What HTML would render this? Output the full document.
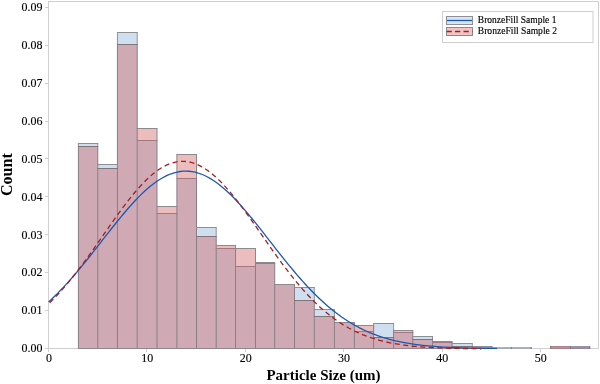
<!DOCTYPE html>
<html><head><meta charset="utf-8"><style>
html,body{margin:0;padding:0;background:#fff;width:600px;height:384px;overflow:hidden;font-family:"Liberation Serif",serif;}
svg{display:block;will-change:transform;}
</style></head><body>
<svg width="600" height="384" viewBox="0 0 600 384">
<rect x="0" y="0" width="600" height="384" fill="#fff"/>
<rect x="48.5" y="1.5" width="550" height="347" fill="none" stroke="#cfcfcf" stroke-width="1"/>
<g stroke="#cfcfcf" fill="none"><path d="M45 348.5H48.5"/><path d="M45 310.5H48.5"/><path d="M45 272.5H48.5"/><path d="M45 234.5H48.5"/><path d="M45 196.5H48.5"/><path d="M45 158.5H48.5"/><path d="M45 121.5H48.5"/><path d="M45 83.5H48.5"/><path d="M45 45.5H48.5"/><path d="M45 7.5H48.5"/><path d="M48.5 349V352"/><path d="M146.5 349V352"/><path d="M245.5 349V352"/><path d="M343.5 349V352"/><path d="M442.5 349V352"/><path d="M540.5 349V352"/></g>
<rect x="78.4" y="143.5" width="19.349999999999994" height="205.0" fill="#cfdff0"/><rect x="97.75" y="164.5" width="19.700000000000003" height="184.0" fill="#cfdff0"/><rect x="117.45" y="32.5" width="19.749999999999986" height="316.0" fill="#cfdff0"/><rect x="137.2" y="140.5" width="19.80000000000001" height="208.0" fill="#cfdff0"/><rect x="157.0" y="213.5" width="19.900000000000006" height="135.0" fill="#cfdff0"/><rect x="176.9" y="178.5" width="19.599999999999994" height="170.0" fill="#cfdff0"/><rect x="196.5" y="227.5" width="19.69999999999999" height="121.0" fill="#cfdff0"/><rect x="216.2" y="248.5" width="19.350000000000023" height="100.0" fill="#cfdff0"/><rect x="235.55" y="266.5" width="19.94999999999999" height="82.0" fill="#cfdff0"/><rect x="255.5" y="263.5" width="19.19999999999999" height="85.0" fill="#cfdff0"/><rect x="274.7" y="284.5" width="19.80000000000001" height="64.0" fill="#cfdff0"/><rect x="294.5" y="287.5" width="19.80000000000001" height="61.0" fill="#cfdff0"/><rect x="314.3" y="309.5" width="20.099999999999966" height="39.0" fill="#cfdff0"/><rect x="334.4" y="322.5" width="20.0" height="26.0" fill="#cfdff0"/><rect x="354.4" y="331.5" width="19.200000000000045" height="17.0" fill="#cfdff0"/><rect x="373.6" y="323.5" width="20.0" height="25.0" fill="#cfdff0"/><rect x="393.6" y="332.5" width="19.19999999999999" height="16.0" fill="#cfdff0"/><rect x="412.8" y="336.5" width="19.69999999999999" height="12.0" fill="#cfdff0"/><rect x="432.5" y="342.5" width="19.5" height="6.0" fill="#cfdff0"/><rect x="452.0" y="343.5" width="20.30000000000001" height="5.0" fill="#cfdff0"/><rect x="78.4" y="146.5" width="19.349999999999994" height="202.0" fill="rgba(206,94,94,0.41)"/><rect x="97.75" y="168.5" width="19.700000000000003" height="180.0" fill="rgba(206,94,94,0.41)"/><rect x="117.45" y="44.5" width="19.749999999999986" height="304.0" fill="rgba(206,94,94,0.41)"/><rect x="137.2" y="128.5" width="19.80000000000001" height="220.0" fill="rgba(206,94,94,0.41)"/><rect x="157.0" y="206.5" width="19.900000000000006" height="142.0" fill="rgba(206,94,94,0.41)"/><rect x="176.9" y="154.5" width="19.599999999999994" height="194.0" fill="rgba(206,94,94,0.41)"/><rect x="196.5" y="236.5" width="19.69999999999999" height="112.0" fill="rgba(206,94,94,0.41)"/><rect x="216.2" y="245.5" width="19.350000000000023" height="103.0" fill="rgba(206,94,94,0.41)"/><rect x="235.55" y="248.5" width="19.94999999999999" height="100.0" fill="rgba(206,94,94,0.41)"/><rect x="255.5" y="262.5" width="19.19999999999999" height="86.0" fill="rgba(206,94,94,0.41)"/><rect x="274.7" y="284.5" width="19.80000000000001" height="64.0" fill="rgba(206,94,94,0.41)"/><rect x="294.5" y="300.5" width="19.80000000000001" height="48.0" fill="rgba(206,94,94,0.41)"/><rect x="314.3" y="316.5" width="20.099999999999966" height="32.0" fill="rgba(206,94,94,0.41)"/><rect x="334.4" y="322.5" width="20.0" height="26.0" fill="rgba(206,94,94,0.41)"/><rect x="354.4" y="325.5" width="19.200000000000045" height="23.0" fill="rgba(206,94,94,0.41)"/><rect x="373.6" y="337.5" width="20.0" height="11.0" fill="rgba(206,94,94,0.41)"/><rect x="393.6" y="330.5" width="19.19999999999999" height="18.0" fill="rgba(206,94,94,0.41)"/><rect x="412.8" y="339.5" width="19.69999999999999" height="9.0" fill="rgba(206,94,94,0.41)"/><rect x="432.5" y="341.5" width="19.5" height="7.0" fill="rgba(206,94,94,0.41)"/><rect x="452.0" y="346.5" width="20.30000000000001" height="2.0" fill="rgba(206,94,94,0.41)"/><rect x="471.8" y="346" width="20.5" height="1" fill="#8e8e94"/><rect x="471.8" y="347" width="20.5" height="1" fill="#9a9aa0"/><rect x="471.8" y="348" width="20.5" height="1" fill="#8e8c92"/><rect x="491.3" y="347" width="20.399999999999977" height="1" fill="#a9b2c0"/><rect x="491.3" y="348" width="20.399999999999977" height="1" fill="#a4acb8"/><rect x="510.7" y="347" width="21.000000000000057" height="1" fill="#a9b2c0"/><rect x="510.7" y="348" width="21.000000000000057" height="1" fill="#a4acb8"/><rect x="550.1" y="346" width="20.850000000000023" height="1" fill="#ad8489"/><rect x="550.1" y="347" width="20.850000000000023" height="1" fill="#c98b92"/><rect x="550.1" y="348" width="20.850000000000023" height="1" fill="#a58289"/><rect x="569.95" y="346" width="20.25" height="1" fill="#929aa8"/><rect x="569.95" y="347" width="20.25" height="1" fill="#a48c95"/><rect x="569.95" y="348" width="20.25" height="1" fill="#9e858e"/>
<g fill="none" stroke-width="1"><path d="M78.4 146.5V348.5" stroke="#8a7d85"/><path d="M78.4 143.5V146.5" stroke="#8f9197"/><path d="M97.75 146.5V348.5" stroke="#8a7d85"/><path d="M97.75 143.5V146.5" stroke="#8f9197"/><path d="M117.45 44.5V348.5" stroke="#8a7d85"/><path d="M117.45 32.5V44.5" stroke="#8f9197"/><path d="M137.2 44.5V348.5" stroke="#8a7d85"/><path d="M137.2 32.5V44.5" stroke="#8f9197"/><path d="M157.0 140.5V348.5" stroke="#8a7d85"/><path d="M157.0 128.5V140.5" stroke="#928487"/><path d="M176.9 178.5V348.5" stroke="#8a7d85"/><path d="M176.9 154.5V178.5" stroke="#928487"/><path d="M196.5 178.5V348.5" stroke="#8a7d85"/><path d="M196.5 154.5V178.5" stroke="#928487"/><path d="M216.2 236.5V348.5" stroke="#8a7d85"/><path d="M216.2 227.5V236.5" stroke="#8f9197"/><path d="M235.55 248.5V348.5" stroke="#8a7d85"/><path d="M235.55 245.5V248.5" stroke="#928487"/><path d="M255.5 263.5V348.5" stroke="#8a7d85"/><path d="M255.5 248.5V263.5" stroke="#928487"/><path d="M274.7 263.5V348.5" stroke="#8a7d85"/><path d="M274.7 262.5V263.5" stroke="#928487"/><path d="M294.5 284.5V348.5" stroke="#8a7d85"/><path d="M314.3 300.5V348.5" stroke="#8a7d85"/><path d="M314.3 287.5V300.5" stroke="#8f9197"/><path d="M334.4 316.5V348.5" stroke="#8a7d85"/><path d="M334.4 309.5V316.5" stroke="#8f9197"/><path d="M354.4 322.5V348.5" stroke="#8a7d85"/><path d="M373.6 331.5V348.5" stroke="#8a7d85"/><path d="M373.6 323.5V331.5" stroke="#8f9197"/><path d="M373.6 325.5V331.5" stroke="#928487"/><path d="M393.6 332.5V348.5" stroke="#8a7d85"/><path d="M393.6 323.5V332.5" stroke="#8f9197"/><path d="M393.6 330.5V332.5" stroke="#928487"/><path d="M412.8 332.5V348.5" stroke="#8a7d85"/><path d="M412.8 330.5V332.5" stroke="#928487"/><path d="M432.5 339.5V348.5" stroke="#8a7d85"/><path d="M432.5 336.5V339.5" stroke="#8f9197"/><path d="M452.0 342.5V348.5" stroke="#8a7d85"/><path d="M452.0 341.5V342.5" stroke="#928487"/><path d="M472.3 346.5V348.5" stroke="#8a7d85"/><path d="M472.3 343.5V346.5" stroke="#8f9197"/><path d="M77.9 143.5H98.25" stroke="#8d8f96"/><path d="M77.9 146.5H98.25" stroke="#827579"/><path d="M77.9 348.5H98.25" stroke="#94848c"/><path d="M97.25 164.5H117.95" stroke="#8d8f96"/><path d="M97.25 168.5H117.95" stroke="#827579"/><path d="M97.25 348.5H117.95" stroke="#94848c"/><path d="M116.95 32.5H137.7" stroke="#8d8f96"/><path d="M116.95 44.5H137.7" stroke="#827579"/><path d="M116.95 348.5H137.7" stroke="#94848c"/><path d="M136.7 128.5H157.5" stroke="#8c8a8e"/><path d="M136.7 140.5H157.5" stroke="#a47880"/><path d="M136.7 348.5H157.5" stroke="#94848c"/><path d="M156.5 206.5H177.4" stroke="#8c8a8e"/><path d="M156.5 213.5H177.4" stroke="#a47880"/><path d="M156.5 348.5H177.4" stroke="#94848c"/><path d="M176.4 154.5H197.0" stroke="#8c8a8e"/><path d="M176.4 178.5H197.0" stroke="#a47880"/><path d="M176.4 348.5H197.0" stroke="#94848c"/><path d="M196.0 227.5H216.7" stroke="#8d8f96"/><path d="M196.0 236.5H216.7" stroke="#827579"/><path d="M196.0 348.5H216.7" stroke="#94848c"/><path d="M215.7 245.5H236.05" stroke="#8c8a8e"/><path d="M215.7 248.5H236.05" stroke="#a47880"/><path d="M215.7 348.5H236.05" stroke="#94848c"/><path d="M235.05 248.5H256.0" stroke="#8c8a8e"/><path d="M235.05 266.5H256.0" stroke="#a47880"/><path d="M235.05 348.5H256.0" stroke="#94848c"/><path d="M255.0 262.5H275.2" stroke="#8c8a8e"/><path d="M255.0 263.5H275.2" stroke="#a47880"/><path d="M255.0 348.5H275.2" stroke="#94848c"/><path d="M274.2 284.5H295.0" stroke="#8c8a8e"/><path d="M274.2 348.5H295.0" stroke="#94848c"/><path d="M294.0 287.5H314.8" stroke="#8d8f96"/><path d="M294.0 300.5H314.8" stroke="#827579"/><path d="M294.0 348.5H314.8" stroke="#94848c"/><path d="M313.8 309.5H334.9" stroke="#8d8f96"/><path d="M313.8 316.5H334.9" stroke="#827579"/><path d="M313.8 348.5H334.9" stroke="#94848c"/><path d="M333.9 322.5H354.9" stroke="#8c8a8e"/><path d="M333.9 348.5H354.9" stroke="#94848c"/><path d="M353.9 325.5H374.1" stroke="#8c8a8e"/><path d="M353.9 331.5H374.1" stroke="#a47880"/><path d="M353.9 348.5H374.1" stroke="#94848c"/><path d="M373.1 323.5H394.1" stroke="#8d8f96"/><path d="M373.1 337.5H394.1" stroke="#827579"/><path d="M373.1 348.5H394.1" stroke="#94848c"/><path d="M393.1 330.5H413.3" stroke="#8c8a8e"/><path d="M393.1 332.5H413.3" stroke="#a47880"/><path d="M393.1 348.5H413.3" stroke="#94848c"/><path d="M412.3 336.5H433.0" stroke="#8d8f96"/><path d="M412.3 339.5H433.0" stroke="#827579"/><path d="M412.3 348.5H433.0" stroke="#94848c"/><path d="M432.0 341.5H452.5" stroke="#8c8a8e"/><path d="M432.0 342.5H452.5" stroke="#a47880"/><path d="M432.0 348.5H452.5" stroke="#94848c"/><path d="M451.5 343.5H472.8" stroke="#8d8f96"/><path d="M451.5 346.5H472.8" stroke="#827579"/><path d="M451.5 348.5H472.8" stroke="#94848c"/><path d="M472.3 346V349" stroke="#7e7a80"/><path d="M491.8 346V349" stroke="#7e7a80"/><path d="M511.2 347V349" stroke="#7e7a80"/><path d="M531.2 347V349" stroke="#7e7a80"/><path d="M550.6 346V349" stroke="#7e7a80"/><path d="M570.45 346V349" stroke="#7e7a80"/><path d="M589.7 346V349" stroke="#7e7a80"/></g>
<polyline points="48.60,301.95 51.59,299.18 54.58,296.32 57.57,293.35 60.56,290.30 63.55,287.15 66.54,283.92 69.53,280.60 72.52,277.21 75.51,273.74 78.50,270.20 81.49,266.60 84.48,262.94 87.47,259.23 90.46,255.48 93.45,251.70 96.44,247.89 99.43,244.06 102.42,240.22 105.41,236.39 108.40,232.57 111.39,228.77 114.38,225.00 117.37,221.28 120.36,217.61 123.35,214.01 126.34,210.48 129.33,207.04 132.32,203.70 135.31,200.47 138.30,197.35 141.29,194.37 144.28,191.53 147.27,188.84 150.26,186.31 153.26,183.95 156.25,181.76 159.24,179.77 162.23,177.96 165.22,176.35 168.21,174.95 171.20,173.76 174.19,172.79 177.18,172.03 180.17,171.50 183.16,171.19 186.15,171.10 189.14,171.24 192.13,171.60 195.12,172.19 198.11,173.00 201.10,174.02 204.09,175.26 207.08,176.71 210.07,178.37 213.06,180.22 216.05,182.26 219.04,184.49 222.03,186.89 225.02,189.46 228.01,192.19 231.00,195.06 233.99,198.07 236.98,201.22 239.97,204.47 242.96,207.84 245.95,211.30 248.94,214.85 251.93,218.47 254.92,222.15 257.91,225.89 260.90,229.66 263.89,233.47 266.88,237.29 269.87,241.13 272.86,244.96 275.85,248.78 278.84,252.59 281.83,256.37 284.82,260.11 287.81,263.80 290.80,267.45 293.79,271.04 296.78,274.56 299.77,278.01 302.76,281.39 305.75,284.69 308.74,287.90 311.73,291.03 314.72,294.06 317.71,297.00 320.70,299.84 323.69,302.59 326.68,305.23 329.67,307.78 332.66,310.22 335.65,312.57 338.64,314.81 341.63,316.96 344.62,319.00 347.61,320.95 350.60,322.81 353.59,324.57 356.58,326.24 359.57,327.82 362.57,329.31 365.56,330.72 368.55,332.05 371.54,333.30 374.53,334.47 377.52,335.57 380.51,336.60 383.50,337.56 386.49,338.46 389.48,339.30 392.47,340.08 395.46,340.80 398.45,341.47 401.44,342.10 404.43,342.67 407.42,343.21 410.41,343.70 413.40,344.15 416.39,344.57 419.38,344.95 422.37,345.30 425.36,345.62 428.35,345.92 431.34,346.19 434.33,346.43 437.32,346.66 440.31,346.86 443.30,347.04 446.29,347.21 449.28,347.36 452.27,347.50 455.26,347.62 458.25,347.73 461.24,347.83 464.23,347.92 467.22,348.01 470.21,348.08 473.20,348.14 476.19,348.20 479.18,348.25 482.17,348.30 485.16,348.34 488.15,348.38 491.14,348.41 494.13,348.44 497.12,348.47" fill="none" stroke="#1b58b2" stroke-width="1.3"/>
<polyline points="48.60,303.85 51.49,301.03 54.37,298.10 57.26,295.06 60.14,291.91 63.03,288.66 65.91,285.30 68.80,281.85 71.68,278.31 74.57,274.67 77.45,270.96 80.34,267.16 83.22,263.29 86.11,259.36 88.99,255.37 91.88,251.34 94.76,247.26 97.65,243.15 100.53,239.03 103.42,234.89 106.30,230.75 109.19,226.63 112.07,222.53 114.96,218.46 117.85,214.44 120.73,210.48 123.62,206.59 126.50,202.79 129.39,199.08 132.27,195.48 135.16,192.01 138.04,188.66 140.93,185.46 143.81,182.42 146.70,179.55 149.58,176.85 152.47,174.35 155.35,172.04 158.24,169.93 161.12,168.04 164.01,166.38 166.89,164.94 169.78,163.73 172.66,162.76 175.55,162.04 178.44,161.56 181.32,161.33 184.21,161.35 187.09,161.61 189.98,162.12 192.86,162.88 195.75,163.88 198.63,165.11 201.52,166.58 204.40,168.28 207.29,170.20 210.17,172.33 213.06,174.66 215.94,177.20 218.83,179.91 221.71,182.81 224.60,185.87 227.48,189.09 230.37,192.45 233.25,195.95 236.14,199.56 239.02,203.28 241.91,207.10 244.80,210.99 247.68,214.96 250.57,218.99 253.45,223.06 256.34,227.17 259.22,231.29 262.11,235.43 264.99,239.57 267.88,243.69 270.76,247.80 273.65,251.87 276.53,255.90 279.42,259.88 282.30,263.80 285.19,267.66 288.07,271.45 290.96,275.16 293.84,278.78 296.73,282.31 299.61,285.75 302.50,289.09 305.39,292.33 308.27,295.46 311.16,298.49 314.04,301.41 316.93,304.22 319.81,306.91 322.70,309.50 325.58,311.98 328.47,314.34 331.35,316.60 334.24,318.75 337.12,320.80 340.01,322.74 342.89,324.58 345.78,326.32 348.66,327.96 351.55,329.51 354.43,330.96 357.32,332.34 360.20,333.62 363.09,334.83 365.97,335.95 368.86,337.00 371.75,337.99 374.63,338.90 377.52,339.75 380.40,340.54 383.29,341.27 386.17,341.94 389.06,342.57 391.94,343.14 394.83,343.67 397.71,344.16 400.60,344.61 403.48,345.02 406.37,345.40 409.25,345.74 412.14,346.05 415.02,346.34 417.91,346.60 420.79,346.84 423.68,347.05 426.56,347.25 429.45,347.42 432.34,347.58 435.22,347.73 438.11,347.85 440.99,347.97 443.88,348.08 446.76,348.17 449.65,348.25 452.53,348.33 455.42,348.39 458.30,348.45 461.19,348.51 464.07,348.55 466.96,348.60 469.84,348.63 472.73,348.67 475.61,348.70 478.50,348.72 481.38,348.74" fill="none" stroke="#a81e1e" stroke-width="1.3" stroke-dasharray="5.05 3.5" stroke-dashoffset="6.95"/>
<g font-family="Liberation Serif, serif" font-size="12" fill="#000" stroke="#000" stroke-width="0.12"><text transform="translate(42.4,352.05) scale(1,1.1)" text-anchor="end">0.00</text><text transform="translate(42.4,314.20) scale(1,1.1)" text-anchor="end">0.01</text><text transform="translate(42.4,276.35) scale(1,1.1)" text-anchor="end">0.02</text><text transform="translate(42.4,238.50) scale(1,1.1)" text-anchor="end">0.03</text><text transform="translate(42.4,200.65) scale(1,1.1)" text-anchor="end">0.04</text><text transform="translate(42.4,162.80) scale(1,1.1)" text-anchor="end">0.05</text><text transform="translate(42.4,124.95) scale(1,1.1)" text-anchor="end">0.06</text><text transform="translate(42.4,87.10) scale(1,1.1)" text-anchor="end">0.07</text><text transform="translate(42.4,49.25) scale(1,1.1)" text-anchor="end">0.08</text><text transform="translate(42.4,11.40) scale(1,1.1)" text-anchor="end">0.09</text><text transform="translate(48.90,361.7) scale(1,1.1)" text-anchor="middle">0</text><text transform="translate(147.26,361.7) scale(1,1.1)" text-anchor="middle">10</text><text transform="translate(245.62,361.7) scale(1,1.1)" text-anchor="middle">20</text><text transform="translate(343.98,361.7) scale(1,1.1)" text-anchor="middle">30</text><text transform="translate(442.34,361.7) scale(1,1.1)" text-anchor="middle">40</text><text transform="translate(540.70,361.7) scale(1,1.1)" text-anchor="middle">50</text></g>
<text x="323.5" y="380" text-anchor="middle" font-family="Liberation Serif, serif" font-size="15" font-weight="bold">Particle Size (um)</text>
<text transform="translate(11.7,174.6) rotate(-90)" text-anchor="middle" font-family="Liberation Serif, serif" font-size="16" font-weight="bold">Count</text>
<rect x="442.5" y="11.5" width="150.5" height="31" fill="#fff" stroke="#cfcfcf"/>
<rect x="446.5" y="16.5" width="26" height="8" fill="#d6e5f6" stroke="#8d8f96"/>
<line x1="447" y1="20.5" x2="472" y2="20.5" stroke="#1b58b2" stroke-width="1.3"/>
<rect x="446.5" y="27.5" width="26" height="8" fill="#f2c4c4" stroke="#8c8a8e"/>
<line x1="446.5" y1="31.5" x2="472.5" y2="31.5" stroke="#a81e1e" stroke-width="1.3" stroke-dasharray="5.3 3.2"/>
<g font-family="Liberation Serif, serif" font-size="10" fill="#000" stroke="#000" stroke-width="0.15">
<text x="477.8" y="22.6" textLength="78.6" lengthAdjust="spacingAndGlyphs">BronzeFill Sample 1</text>
<text x="477.8" y="33.6" textLength="79.2" lengthAdjust="spacingAndGlyphs">BronzeFill Sample 2</text>
</g>
</svg>
</body></html>
